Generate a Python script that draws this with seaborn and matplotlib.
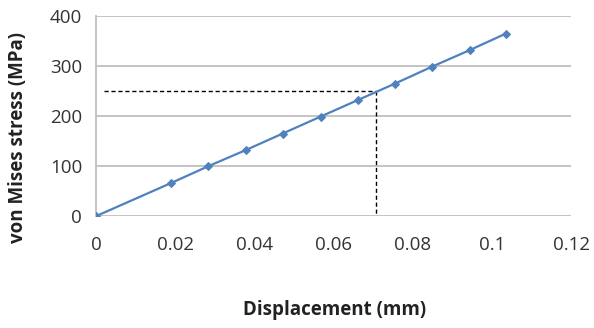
import numpy as np
import pandas as pd
import seaborn as sns
from matplotlib import pyplot as plt

# values
displacement = [0, 0.0189, 0.0284, 0.0378, 0.0471, 0.0567, 0.0661, 0.0755, 0.0849, 0.0944, 0.1035]
stress = [0, 66, 100, 132, 165, 199, 232, 265, 299, 332, 365]
x_ticks = [0, 0.02, 0.04, 0.06, 0.08, 0.1, 0.12]
x_tick_labels = ['0', '0.02', '0.04', '0.06', '0.08', '0.1', '0.12']
y_ticks = [0, 100, 200, 300, 400]
ref_stress = 250
ref_disp = 0.0707

df = pd.DataFrame({'Displacement': displacement, 'Stress': stress})

sns.set_style('white')
plt.rcParams['font.family'] = ['Open Sans', 'DejaVu Sans']

fig = plt.figure(figsize=(5.94, 3.28), dpi=100)
ax = fig.add_axes([0.1616, 0.341, 0.8, 0.61])

for yt in y_ticks:
    ax.axhline(yt, color='#bfbfbf', linewidth=1.3, zorder=0)

# dashed guide lines at 250 MPa
ax.plot([0.002, ref_disp], [ref_stress, ref_stress], color='black', linestyle=(0, (3, 2)), linewidth=1, zorder=1)
ax.plot([ref_disp, ref_disp], [ref_stress, 0], color='black', linestyle=(0, (3, 2)), linewidth=1, zorder=1)

sns.lineplot(data=df, x='Displacement', y='Stress', ax=ax, color='#4f81bd', linewidth=1.6,
             marker='D', markersize=4, markeredgecolor='#4f81bd', zorder=3)

ax.set_xlim(0, 0.12)
ax.set_ylim(0, 400)
ax.set_xticks(x_ticks)
ax.set_xticklabels(x_tick_labels)
ax.set_yticks(y_ticks)
ax.tick_params(axis='both', length=0, labelsize=13.5, colors='#333333')
ax.tick_params(axis='x', pad=14)
ax.tick_params(axis='y', pad=10)

for side in ['top', 'right', 'bottom']:
    ax.spines[side].set_visible(False)
ax.spines['left'].set_color('#bfbfbf')
ax.spines['left'].set_linewidth(1.3)

ax.set_xlabel('Displacement (mm)', fontsize=13.5, fontweight='bold', color='#222222')
ax.set_ylabel('von Mises stress (MPa)', fontsize=13.5, fontweight='bold', color='#222222', va='center')
ax.xaxis.set_label_coords(0.503, -0.42)
ax.yaxis.set_label_coords(-0.165, 0.3925)

fig.savefig('out.png', dpi=100)
